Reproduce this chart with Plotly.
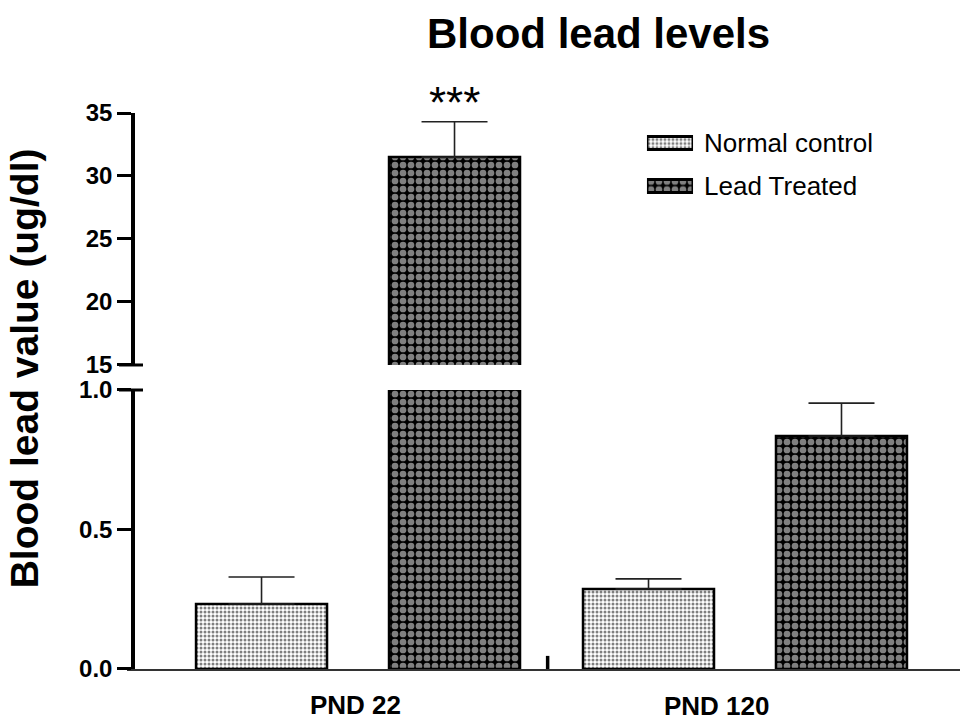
import plotly.graph_objects as go

# ---------------- data ----------------
categories = ["PND 22", "PND 120"]
series_names = ["Normal control", "Lead Treated"]
normal_mean = [0.233, 0.287]
normal_sem = [0.097, 0.036]
lead_mean = [31.5, 0.835]
lead_sem = [2.8, 0.118]
lower_ticks = [0.0, 0.5, 1.0]
upper_ticks = [15, 20, 25, 30, 35]
lower_range = [0, 1.0]
upper_range = [15, 35]
significance = "***"
legend_swatch = [1]

# ---------------- styling ----------------
FONT = "Arial, Liberation Sans, sans-serif"
W, H = 960, 722
L, R, T, B = 127, 0, 113, 53
bar_width = 0.3385
offsets = [-0.4186, 0.0801]
x_range = [-0.597, 1.5556]
lower_domain = [0, 0.5018]
upper_domain = [0.5468, 1.0]
label_y = [-0.0647, -0.0665]
label_xshift = [-3, -28]

pat_normal = dict(shape=".", fgcolor="black", bgcolor="white", size=4, solidity=0.45)
pat_lead = dict(shape=".", fgcolor="white", bgcolor="black", size=8, solidity=0.55)
patterns = [pat_normal, pat_lead]
means = [normal_mean, lead_mean]
sems = [normal_sem, lead_sem]

fig = go.Figure()

for xa, ya in [("x", "y"), ("x2", "y2")]:
    for i in range(2):
        fig.add_trace(go.Bar(
            x=categories, y=means[i], name=series_names[i],
            xaxis=xa, yaxis=ya,
            width=bar_width, offset=offsets[i],
            marker=dict(color="white", pattern=patterns[i],
                        line=dict(color="black", width=2.5)),
            error_y=dict(type="data", array=sems[i], arrayminus=[0, 0],
                         symmetric=False, width=33, thickness=1.6, color="#222"),
            showlegend=False,
        ))

# legend swatches (small subplot)
for i in range(2):
    fig.add_trace(go.Bar(
        x=legend_swatch, y=[series_names[i]], orientation="h",
        xaxis="x3", yaxis="y3", width=0.30,
        marker=dict(color="white", pattern=patterns[i],
                    line=dict(color="black", width=3)),
        showlegend=False, hoverinfo="skip",
    ))

axis_common = dict(
    showline=True, linecolor="black", linewidth=3.5,
    ticks="outside", ticklen=14, tickwidth=3, tickcolor="black",
    showgrid=False, zeroline=False, anchor="free", position=0.0072,
    tickfont=dict(family=FONT, size=24, color="black", weight="bold"),
)

fig.update_layout(
    width=W, height=H,
    margin=dict(l=L, r=R, t=T, b=B),
    paper_bgcolor="white", plot_bgcolor="white",
    barmode="overlay",
    font=dict(family=FONT, color="black"),
    xaxis=dict(domain=[0, 1], anchor="y", type="category",
               categoryorder="array", categoryarray=categories,
               range=x_range, showticklabels=False, ticks="",
               showline=True, linecolor="#333", linewidth=2,
               showgrid=False, zeroline=False),
    xaxis2=dict(domain=[0, 1], anchor="y2", matches="x", visible=False,
                type="category", categoryorder="array", categoryarray=categories),
    yaxis=dict(domain=lower_domain, range=lower_range,
               tickvals=lower_ticks, ticktext=[f"{v:.1f}" for v in lower_ticks],
               **axis_common),
    yaxis2=dict(domain=upper_domain, range=upper_range,
                tickvals=upper_ticks, ticktext=[str(v) for v in upper_ticks],
                **axis_common),
    xaxis3=dict(domain=[0.6242, 0.6795], anchor="y3", range=[0, 1], visible=False),
    yaxis3=dict(domain=[0.830, 0.9847], anchor="x3", type="category",
                categoryorder="array", categoryarray=series_names,
                autorange="reversed", visible=False),
)

annotations = []
# title
annotations.append(dict(text="<b>Blood lead levels</b>", xref="paper", yref="paper",
                        x=0.5666, y=1.143, xanchor="center", yanchor="middle",
                        showarrow=False, font=dict(size=42, family=FONT, color="black")))
# y-axis title
annotations.append(dict(text="<b>Blood lead value (ug/dl)</b>", xref="paper", yref="paper",
                        x=-0.122, y=0.5414, xanchor="center", yanchor="middle",
                        textangle=-90, showarrow=False,
                        font=dict(size=39, family=FONT, color="black")))
# x category labels
for c, yy, xs in zip(categories, label_y, label_xshift):
    annotations.append(dict(text=f"<b>{c}</b>", xref="x", yref="paper", x=c, y=yy,
                            xshift=xs, xanchor="center", yanchor="middle",
                            showarrow=False, font=dict(size=26, family=FONT, color="black")))
# significance stars
annotations.append(dict(text=significance, xref="x2", yref="y2",
                        x=offsets[1] + bar_width / 2,
                        y=lead_mean[0] + lead_sem[0], yshift=19,
                        xanchor="center", yanchor="middle", showarrow=False,
                        font=dict(size=44, family=FONT, color="black")))
# legend text
for n in series_names:
    annotations.append(dict(text=n, xref="paper", yref="y3", x=0.6903, y=n,
                            xanchor="left", yanchor="middle", showarrow=False,
                            font=dict(size=26, family=FONT, color="black")))
fig.update_layout(annotations=annotations)

# axis-break marks and the small tick between groups
shapes = [
    dict(type="line", xref="paper", yref="paper", x0=-0.0096, x1=0.0192,
         y0=upper_domain[0], y1=upper_domain[0], line=dict(color="black", width=3)),
    dict(type="line", xref="paper", yref="paper", x0=-0.0096, x1=0.0192,
         y0=lower_domain[1], y1=lower_domain[1], line=dict(color="black", width=3)),
    dict(type="line", xref="x", yref="y", x0=0.49, x1=0.49, y0=0, y1=0.047,
         line=dict(color="black", width=3.5)),
]
fig.update_layout(shapes=shapes)

fig.write_html("out.html")
